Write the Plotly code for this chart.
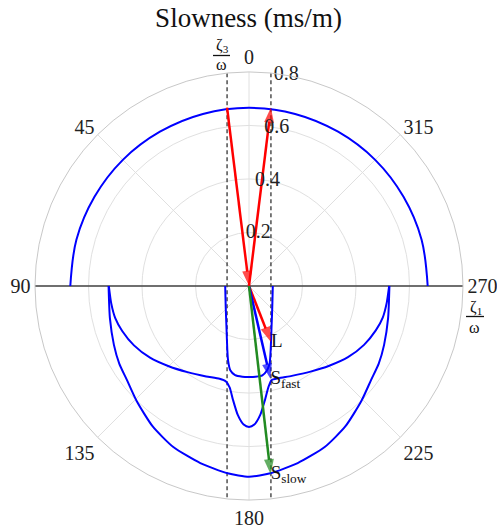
import numpy as np
import plotly.graph_objects as go

# ---------------- data (slowness components, ms/m) ----------------
R_MAX = 0.8
angle_ticks = [0, 45, 90, 135, 180, 225, 270, 315]
angle_labels = ["0", "45", "90", "135", "180", "225", "270", "315"]
radial_ticks = [0.2, 0.4, 0.6, 0.8]
radial_labels = ["0.2", "0.4", "0.6", "0.8"]
radial_label_theta = [350, 350, 350, 350]

# upper medium (isotropic) slowness circle: theta (deg) and r
top_theta = [-90, -75, -60, -45, -30, -15, 0, 15, 30, 45, 60, 75, 90]
top_r = [0.668, 0.668, 0.667, 0.667, 0.666, 0.666, 0.666, 0.666, 0.666, 0.667, 0.667, 0.668, 0.668]

# lower medium slowness curves (x = zeta1/omega, y = zeta3/omega)
L_x = [-0.089, -0.087, -0.084, -0.081, -0.078, -0.070, -0.052, -0.025, 0.0, 0.025, 0.050, 0.067, 0.077, 0.081, 0.084, 0.087, 0.089]
L_y = [0.0, -0.08, -0.16, -0.24, -0.28, -0.315, -0.333, -0.339, -0.340, -0.339, -0.334, -0.316, -0.29, -0.24, -0.16, -0.08, 0.0]

Sf_x = [-0.524, -0.515, -0.500, -0.474, -0.430, -0.370, -0.300, -0.230, -0.160, -0.110, -0.086, -0.072, -0.060, -0.042, -0.020, 0.0,
        0.020, 0.042, 0.060, 0.072, 0.084, 0.110, 0.160, 0.230, 0.300, 0.370, 0.430, 0.474, 0.500, 0.515, 0.524]
Sf_y = [0.0, -0.065, -0.120, -0.168, -0.222, -0.268, -0.300, -0.322, -0.338, -0.347, -0.357, -0.380, -0.425, -0.482, -0.518, -0.527,
        -0.518, -0.482, -0.425, -0.380, -0.352, -0.345, -0.336, -0.320, -0.298, -0.266, -0.220, -0.166, -0.118, -0.062, 0.0]

Ss_x = [-0.525, -0.520, -0.505, -0.485, -0.457, -0.420, -0.360, -0.283, -0.182, -0.080, 0.0,
        0.080, 0.182, 0.283, 0.360, 0.420, 0.457, 0.485, 0.505, 0.520, 0.525]
Ss_y = [0.0, -0.120, -0.220, -0.290, -0.350, -0.430, -0.525, -0.602, -0.662, -0.700, -0.713,
        -0.700, -0.662, -0.602, -0.525, -0.430, -0.350, -0.290, -0.220, -0.120, 0.0]

# horizontal slowness lines (dashed)
dashed_x = [-0.082, 0.082]

# wave arrows: start and end points (x, y)
arrows = {
    "incident": dict(x=[-0.082, 0.0], y=[0.667, 0.0], color="#ff0000"),
    "reflected": dict(x=[0.0, 0.082], y=[0.0, 0.667], color="#ff0000"),
    "L": dict(x=[0.0, 0.082], y=[0.0, -0.209], color="#ff0000"),
    "S_fast": dict(x=[0.0, 0.080], y=[0.0, -0.347], color="#0000ff"),
    "S_slow": dict(x=[0.0, 0.081], y=[0.0, -0.704], color="#228b22"),
}
arrow_labels = ["L", "S<sub>fast</sub>", "S<sub>slow</sub>"]
arrow_label_keys = ["L", "S_fast", "S_slow"]


def to_polar(x, y):
    x = np.asarray(x, float)
    y = np.asarray(y, float)
    r = np.hypot(x, y)
    th = np.degrees(np.arctan2(-x, y))
    return r, th


FONT = "Liberation Serif"
W, H = 497, 529
ML, MR, MT, MB = 35, 34, 72, 29
PW, PH = W - ML - MR, H - MT - MB


def px(xp):
    return (xp - ML) / PW


def py(yp):
    return (H - MB - yp) / PH


fig = go.Figure()

# dashed vertical lines
for xv in dashed_x:
    yv = np.sqrt(R_MAX ** 2 - xv ** 2)
    r, th = to_polar([xv, xv], [yv, -yv])
    fig.add_trace(go.Scatterpolar(r=r, theta=th, mode="lines",
                                  line=dict(color="#333333", width=1.3, dash="4px,3px")))

# horizontal interface line
fig.add_trace(go.Scatterpolar(r=[R_MAX, R_MAX], theta=[90, 270], mode="lines",
                              line=dict(color="#444444", width=1.5)))

# slowness curves
fig.add_trace(go.Scatterpolar(r=top_r, theta=top_theta, mode="lines",
                              line=dict(color="#0000ff", width=2, shape="spline")))
for cx, cy in [(L_x, L_y), (Sf_x, Sf_y), (Ss_x, Ss_y)]:
    r, th = to_polar(cx, cy)
    fig.add_trace(go.Scatterpolar(r=r, theta=th, mode="lines",
                                  line=dict(color="#0000ff", width=2, shape="spline", smoothing=0.6)))

# arrows
for key, a in arrows.items():
    r, th = to_polar(a["x"], a["y"])
    fig.add_trace(go.Scatterpolar(r=r, theta=th, mode="lines+markers",
                                  line=dict(color=a["color"], width=2.5),
                                  marker=dict(symbol="arrow", size=[0, 16], angleref="previous",
                                              color=a["color"], line=dict(width=0)),
                                  cliponaxis=False))

# arrow labels
lr, lth = to_polar([arrows[k]["x"][1] for k in arrow_label_keys],
                   [arrows[k]["y"][1] for k in arrow_label_keys])
fig.add_trace(go.Scatterpolar(r=lr, theta=lth, mode="text", text=arrow_labels,
                              textposition="middle right",
                              textfont=dict(family=FONT, size=19, color="#111111"),
                              cliponaxis=False))

# radial tick labels
fig.add_trace(go.Scatterpolar(r=radial_ticks, theta=radial_label_theta, mode="text",
                              text=radial_labels, textposition="middle center",
                              textfont=dict(family=FONT, size=20, color="#222222"),
                              cliponaxis=False))

lab_font = dict(family=FONT, size=16, color="#111111")
fig.update_layout(
    width=W, height=H,
    margin=dict(l=ML, r=MR, t=MT, b=MB),
    paper_bgcolor="white",
    showlegend=False,
    title=dict(text="Slowness (ms/m)", x=0.5, xanchor="center", y=0.966, yanchor="middle",
               font=dict(family=FONT, size=27, color="#111111")),
    polar=dict(
        domain=dict(x=[0, 1], y=[0, 1]),
        bgcolor="white",
        angularaxis=dict(rotation=90, direction="counterclockwise",
                         tickmode="array", tickvals=angle_ticks, ticktext=angle_labels,
                         showline=True, linecolor="#c8c8c8", linewidth=1,
                         gridcolor="#e0e0e0", ticks="",
                         tickfont=dict(family=FONT, size=20, color="#222222")),
        radialaxis=dict(range=[0, R_MAX], tickvals=radial_ticks, showticklabels=False,
                        showline=False, gridcolor="#e0e0e0", ticks=""),
    ),
    annotations=[
        dict(text="ζ<sub>3</sub>", x=px(222), y=py(46), xref="paper", yref="paper",
             showarrow=False, font=lab_font, xanchor="center", yanchor="middle"),
        dict(text="ω", x=px(221), y=py(65), xref="paper", yref="paper",
             showarrow=False, font=lab_font, xanchor="center", yanchor="middle"),
        dict(text="ζ<sub>1</sub>", x=px(476), y=py(307), xref="paper", yref="paper",
             showarrow=False, font=lab_font, xanchor="center", yanchor="middle"),
        dict(text="ω", x=px(475), y=py(327), xref="paper", yref="paper",
             showarrow=False, font=lab_font, xanchor="center", yanchor="middle"),
    ],
    shapes=[
        dict(type="line", xref="paper", yref="paper", x0=px(213), x1=px(230), y0=py(55.5), y1=py(55.5),
             line=dict(color="#111111", width=1.3)),
        dict(type="line", xref="paper", yref="paper", x0=px(466), x1=px(484), y0=py(316.5), y1=py(316.5),
             line=dict(color="#111111", width=1.3)),
    ],
)

fig.write_html("out.html")
